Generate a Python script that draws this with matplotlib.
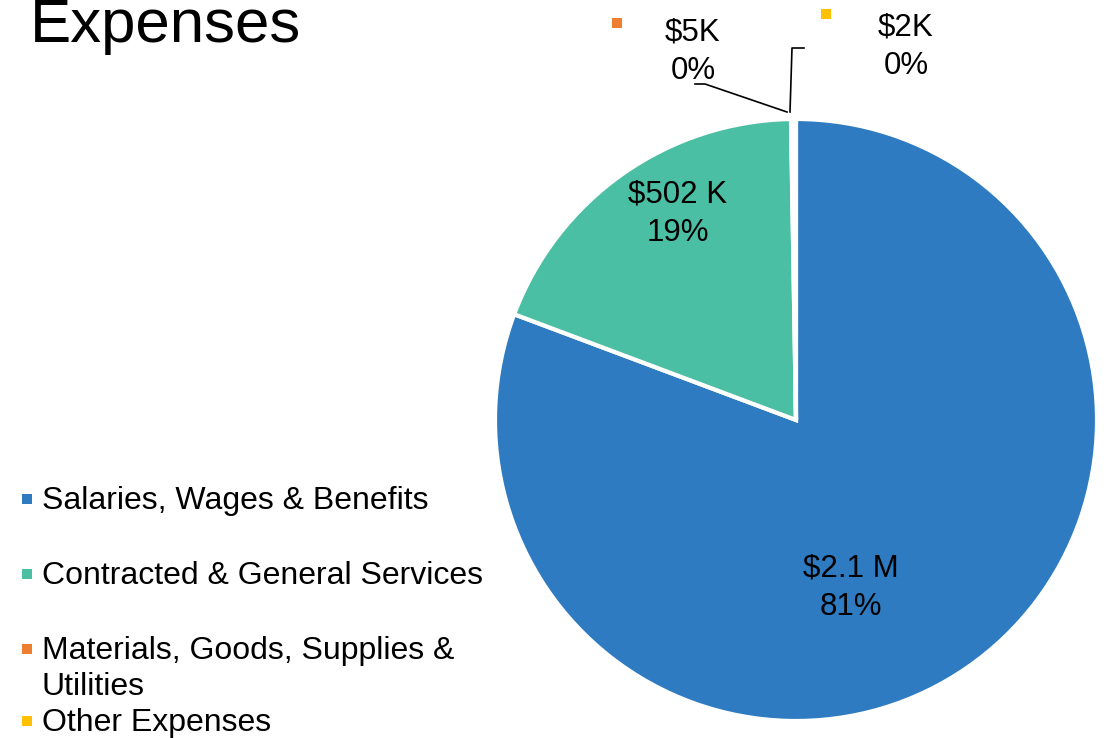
import matplotlib.pyplot as plt
from matplotlib.patches import Rectangle

plt.rcParams['font.family'] = ['Liberation Sans', 'DejaVu Sans']

# data
categories = ['Salaries, Wages & Benefits', 'Contracted & General Services',
              'Materials, Goods, Supplies &\nUtilities', 'Other Expenses']
amounts_k = [2130, 502, 5, 2]
amount_labels = ['$2.1 M', '$502 K', '$5K', '$2K']
colors = ['#2E7BC1', '#4BBFA4', '#ED7D31', '#FFC000']

W, H = 1108, 738


def Y(y):
    # image row -> axis coordinate (y up)
    return H - y


fig = plt.figure(figsize=(W / 100, H / 100), dpi=100)
ax = fig.add_axes([0, 0, 1, 1])

total = sum(amounts_k)
wedges, _ = ax.pie(amounts_k, colors=colors, startangle=90, counterclock=False,
                   center=(796, Y(420)), radius=301,
                   explode=[0, 0.022, 0.022, 0.022],
                   wedgeprops=dict(edgecolor='white', linewidth=3))
ax.set_xlim(0, W)
ax.set_ylim(0, H)
ax.set_aspect('auto')
ax.axis('off')

# data labels
label_pos = [(851, 588), (678, 214), (693, 52), (906, 47)]
for (x, y), lab, val in zip(label_pos, amount_labels, amounts_k):
    pct = f'{round(100 * val / total)}%'
    ax.text(x, Y(y), f'{lab}\n{pct}', ha='center', va='center',
            fontsize=22.5, linespacing=1.38)

# keys beside the small labels
for (x, y), c in zip([(617, 23), (826, 14)], colors[2:]):
    ax.add_patch(Rectangle((x - 5, Y(y) - 5), 10, 10, color=c, lw=0))

# leader lines
ax.plot([695, 705, 787], [Y(84), Y(84), Y(112)], color='black', lw=1.2)
ax.plot([804, 792, 790], [Y(48), Y(48), Y(112)], color='black', lw=1.2)

# title
ax.text(30, Y(42), 'Expenses', fontsize=44.5, ha='left', va='baseline')

# legend
legend_y = [501, 576, 669, 723]
key_y = [499, 574, 649, 721]
for yy, ky, c, name in zip(legend_y, key_y, colors, categories):
    ax.add_patch(Rectangle((22, Y(ky) - 5), 10, 10, color=c, lw=0))
    ax.text(42, Y(yy), name, fontsize=23, ha='left', va='center',
            linespacing=1.3)

fig.savefig('out.png', dpi=100)
